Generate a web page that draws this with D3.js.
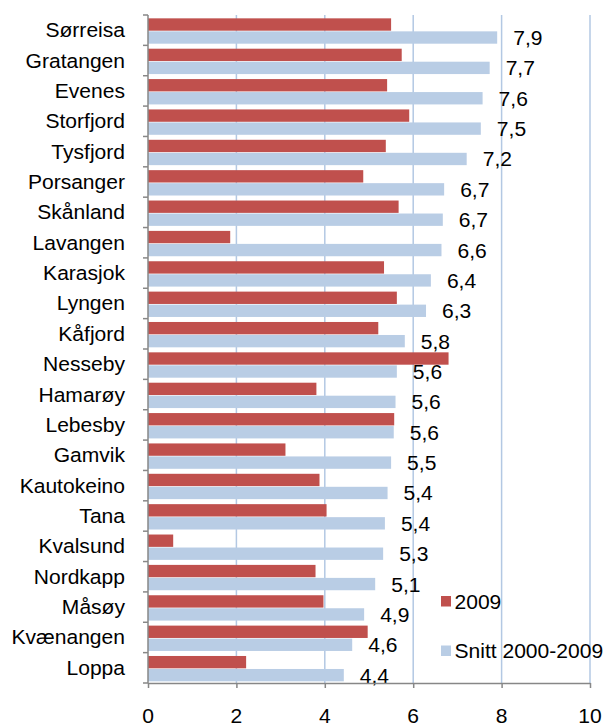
<!DOCTYPE html>
<html>
<head>
<meta charset="utf-8">
<script src="https://cdn.jsdelivr.net/npm/d3@7"></script>
<style>
  body { margin: 0; background: #fff; }
  text { font-family: "Liberation Sans", Arial, sans-serif; fill: #000; }
</style>
</head>
<body>
<div id="vis"></div>
<script>
const FRAME_WIDTH = 607;
const FRAME_HEIGHT = 727;
const MARGINS = {left: 148, right: 17, top: 15, bottom: 44};

const VIS_WIDTH = FRAME_WIDTH - MARGINS.left - MARGINS.right;
const VIS_HEIGHT = FRAME_HEIGHT - MARGINS.top - MARGINS.bottom;

// data
const kommuner = ["Sørreisa", "Gratangen", "Evenes", "Storfjord", "Tysfjord", "Porsanger",
  "Skånland", "Lavangen", "Karasjok", "Lyngen", "Kåfjord", "Nesseby", "Hamarøy", "Lebesby",
  "Gamvik", "Kautokeino", "Tana", "Kvalsund", "Nordkapp", "Måsøy", "Kvænangen", "Loppa"];
const v2009 = [5.50, 5.74, 5.41, 5.91, 5.38, 4.87, 5.67, 1.86, 5.34, 5.63, 5.21, 6.80,
  3.81, 5.57, 3.11, 3.88, 4.04, 0.57, 3.79, 3.97, 4.97, 2.22];
const snitt = [7.90, 7.73, 7.57, 7.53, 7.21, 6.70, 6.67, 6.64, 6.40, 6.29, 5.81, 5.63,
  5.60, 5.56, 5.50, 5.42, 5.36, 5.32, 5.14, 4.89, 4.62, 4.43];
const seriesNames = ["2009", "Snitt 2000-2009"];
const xTicks = [0, 2, 4, 6, 8, 10];

const COLORS = {"2009": "#C0504D", "Snitt 2000-2009": "#B9CDE5"};
const FS = 19.5;
const SX = 1.08; // text looks a bit wide in the original

const rows = kommuner.map((k, i) => ({k: k, "2009": v2009[i], "Snitt 2000-2009": snitt[i]}));

const svg = d3.select("#vis")
  .append("svg")
    .attr("width", FRAME_WIDTH)
    .attr("height", FRAME_HEIGHT);
const FRAME = svg.append("g")
    .attr("transform", "translate(" + MARGINS.left + "," + MARGINS.top + ")");

const x = d3.scaleLinear().domain([0, 10]).range([0, VIS_WIDTH]);
const y = d3.scaleBand().domain(kommuner).range([0, VIS_HEIGHT]);
const inner = d3.scaleBand().domain(seriesNames)
  .range([y.bandwidth() * 0.11, y.bandwidth() * 0.945])
  .paddingInner(0.05);

function putText(sel, tx, ty, anchor, str) {
  sel.append("text")
    .attr("transform", "translate(" + tx + "," + ty + ") scale(" + SX + ",1)")
    .attr("text-anchor", anchor)
    .style("font-size", FS + "px")
    .text(str);
}

// gridlines
FRAME.append("g")
  .selectAll("line")
  .data(xTicks.filter(d => d > 0))
  .enter()
  .append("line")
    .attr("x1", d => x(d)).attr("x2", d => x(d))
    .attr("y1", 0).attr("y2", VIS_HEIGHT)
    .attr("stroke", "#B3C8E3")
    .attr("stroke-width", 1.5);

// bars
const groups = FRAME.append("g")
  .selectAll("g")
  .data(rows)
  .enter()
  .append("g")
    .attr("transform", d => "translate(0," + y(d.k) + ")");

groups.selectAll("rect")
  .data(d => seriesNames.map(s => ({s: s, v: d[s]})))
  .enter()
  .append("rect")
    .attr("x", 0)
    .attr("y", d => inner(d.s))
    .attr("width", d => x(d.v))
    .attr("height", inner.bandwidth())
    .attr("fill", d => COLORS[d.s]);

// value labels for snitt
const fmt = d3.format(".1f");
rows.forEach(d => {
  const s = "Snitt 2000-2009";
  putText(FRAME, x(d[s]) + 16, y(d.k) + inner(s) + inner.bandwidth() / 2 + 7.5, "start",
    fmt(d[s]).replace(".", ","));
});

// y axis
const yAxis = FRAME.append("g")
  .call(d3.axisLeft(y).tickSize(5).tickFormat(""));
yAxis.select(".domain").remove();
yAxis.selectAll(".tick line")
  .attr("transform", "translate(0," + (-y.bandwidth() / 2) + ")")
  .attr("stroke", "#878787").attr("stroke-width", 1.5);
FRAME.append("line")
  .attr("x1", 0).attr("x2", 0).attr("y1", 0).attr("y2", VIS_HEIGHT)
  .attr("stroke", "#878787").attr("stroke-width", 1.5);
// last tick at the bottom
FRAME.append("line")
  .attr("x1", -5).attr("x2", 0).attr("y1", VIS_HEIGHT).attr("y2", VIS_HEIGHT)
  .attr("stroke", "#878787").attr("stroke-width", 1.5);

kommuner.forEach(k => {
  putText(FRAME, -23, y(k) + y.bandwidth() / 2 + 7, "end", k);
});

// x axis
const xAxis = FRAME.append("g")
  .attr("transform", "translate(0," + VIS_HEIGHT + ")")
  .call(d3.axisBottom(x).tickValues(xTicks).tickSize(5).tickSizeOuter(0).tickFormat(""));
xAxis.select(".domain").attr("stroke", "#878787").attr("stroke-width", 1.5);
xAxis.selectAll(".tick line").attr("stroke", "#878787").attr("stroke-width", 1.5);

xTicks.forEach(t => {
  putText(FRAME, x(t), VIS_HEIGHT + 39.5, "middle", String(t));
});

// legend
const legend = svg.append("g").attr("transform", "translate(441,596)");
seriesNames.forEach((s, i) => {
  legend.append("rect")
    .attr("x", 0).attr("y", i * 49.5)
    .attr("width", 10).attr("height", 10.5)
    .attr("fill", COLORS[s]);
  putText(legend, 13.5, i * 49.5 + 12.5, "start", s);
});
</script>
</body>
</html>
